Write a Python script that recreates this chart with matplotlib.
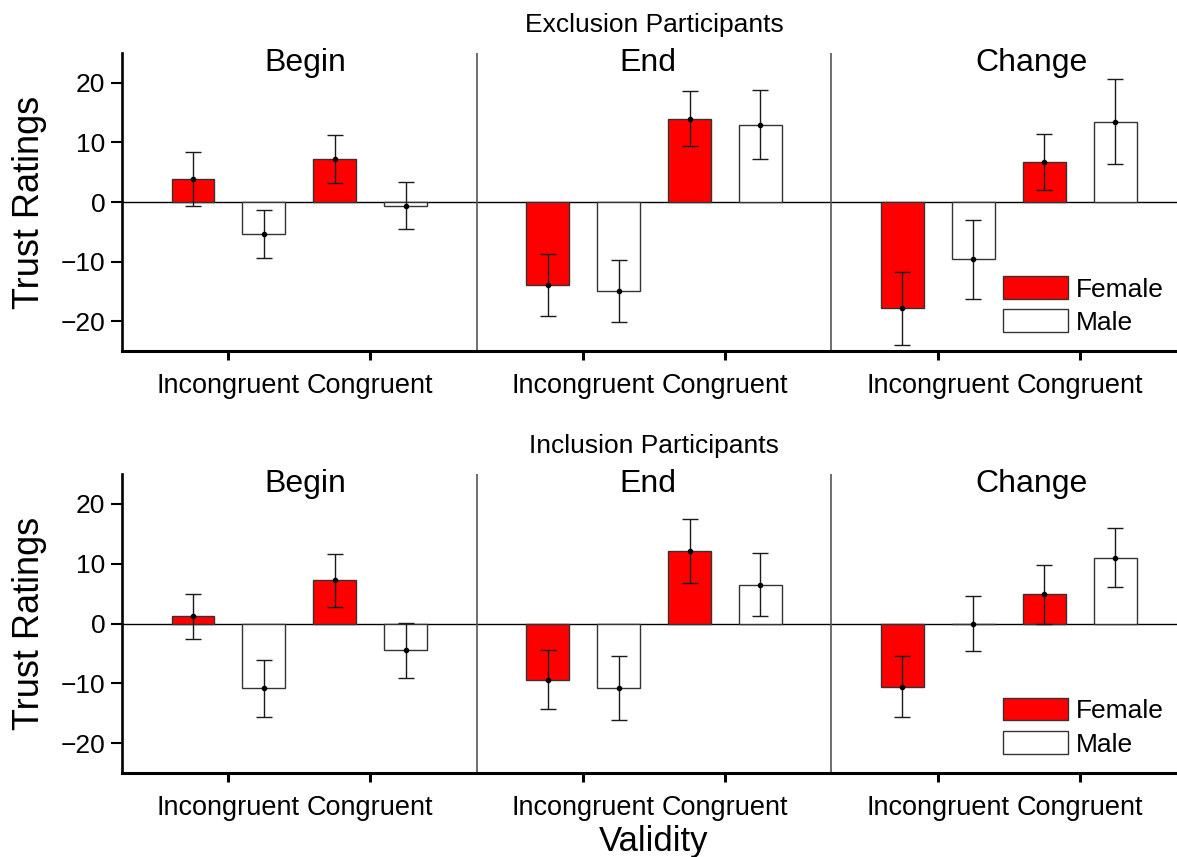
import matplotlib
matplotlib.use('Agg')
import matplotlib.pyplot as plt
import numpy as np

plt.rcParams['font.family'] = ['Liberation Sans', 'DejaVu Sans']

# panel / condition labels
phases = ['Begin', 'End', 'Change']
validity = ['Incongruent', 'Congruent']
genders = ['Female', 'Male']

# means and SEs, ordered Begin-Incong, Begin-Cong, End-Incong, End-Cong, Change-Incong, Change-Cong
excl_female = [3.9, 7.2, -13.9, 14.0, -17.85, 6.7]
excl_female_se = [4.55, 4.0, 5.2, 4.6, 6.1, 4.7]
excl_male = [-5.4, -0.6, -14.95, 13.0, -9.6, 13.5]
excl_male_se = [4.0, 4.0, 5.25, 5.8, 6.65, 7.1]

incl_female = [1.2, 7.2, -9.4, 12.1, -10.6, 4.9]
incl_female_se = [3.8, 4.4, 4.9, 5.3, 5.1, 4.95]
incl_male = [-10.8, -4.5, -10.8, 6.5, 0.0, 11.0]
incl_male_se = [4.75, 4.6, 5.3, 5.3, 4.65, 4.95]

# x positions of the phase titles inside each row
phase_title_x = [0.517, 1.482, 2.563]

colors = {'Female': '#ff0000', 'Male': '#ffffff'}
barw = 0.121

fig = plt.figure(figsize=(11.77, 8.57), dpi=100)
ax_top = fig.add_axes([0.1037, 0.5904, 0.904, 0.3477])
ax_bot = fig.add_axes([0.1037, 0.0980, 0.904, 0.3489])

# group centres: phase p, condition c
group_x = np.array([p + 0.3 + 0.4 * c for p in range(3) for c in range(2)])


def draw_row(ax, fem, fem_se, mal, mal_se, title, show_xlabel):
    for name, vals, errs, off in [('Female', fem, fem_se, -0.1), ('Male', mal, mal_se, 0.1)]:
        xs = group_x + off
        ax.bar(xs, vals, width=barw, color=colors[name], edgecolor='#333333',
               linewidth=1.0, label=name, zorder=2)
        ax.errorbar(xs, vals, yerr=errs, fmt='o', ms=3, color='black',
                    ecolor='#1a1a1a', elinewidth=1.0, capsize=6, capthick=1.0, zorder=3)

    ax.axhline(0, color='black', linewidth=1.0, zorder=1)
    for sep in [1, 2]:
        ax.axvline(sep, color='#555555', linewidth=1.2, zorder=1)

    for x, ph in zip(phase_title_x, phases):
        ax.text(x, 22.0, ph, fontsize=23, ha='center', va='baseline')

    ax.set_xlim(0, 3)
    ax.set_ylim(-25, 25)
    ax.set_yticks([-20, -10, 0, 10, 20])
    ax.set_xticks(group_x)
    ax.set_xticklabels(validity * 3)

    ax.spines['top'].set_visible(False)
    ax.spines['right'].set_visible(False)
    ax.spines['left'].set_linewidth(1.9)
    ax.spines['bottom'].set_linewidth(2.2)
    ax.tick_params(axis='y', direction='out', length=8, width=1.5, labelsize=19, pad=4)
    ax.tick_params(axis='x', direction='out', length=6.5, width=2.2, labelsize=19.5, pad=9)

    ax.set_ylabel('Trust Ratings', fontsize=26, labelpad=10)
    ax.set_title(title, fontsize=19, pad=15)
    if show_xlabel:
        ax.set_xlabel('Validity', fontsize=25, labelpad=3)

    ax.legend(loc='lower left', bbox_to_anchor=(0.828, 0.055), frameon=False,
              fontsize=19, borderpad=0, borderaxespad=0, handlelength=2.46,
              handleheight=0.92, handletextpad=0.3, labelspacing=0.3)


draw_row(ax_top, excl_female, excl_female_se, excl_male, excl_male_se,
         'Exclusion Participants', False)
draw_row(ax_bot, incl_female, incl_female_se, incl_male, incl_male_se,
         'Inclusion Participants', True)

fig.savefig('out.png', dpi=100)
